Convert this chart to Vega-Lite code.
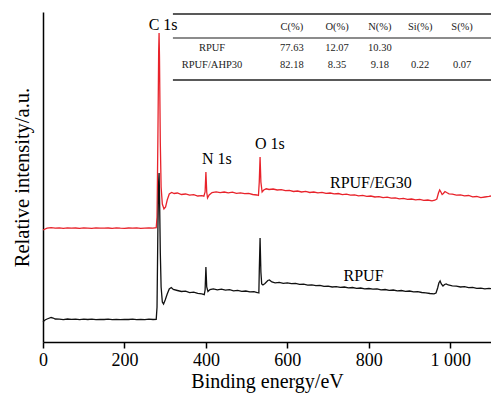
{
  "$schema": "https://vega.github.io/schema/vega-lite/v6.json",
  "autosize": "none",
  "width": 448,
  "height": 330,
  "padding": {"left": 43, "top": 12, "right": 0, "bottom": 55},
  "background": "white",
  "config": {"view": {"stroke": null}, "font": "Liberation Serif"},
  "resolve": {"scale": {"color": "independent"}},
  "datasets": {
    "spec": [
      {"s":"RPUF/EG30","e":0,"i":112},{"s":"RPUF/EG30","e":10,"i":113.8},{"s":"RPUF/EG30","e":20,"i":114.3},{"s":"RPUF/EG30","e":30,"i":113.9},{"s":"RPUF/EG30","e":40,"i":114.2},{"s":"RPUF/EG30","e":50,"i":113.7},{"s":"RPUF/EG30","e":60,"i":114.1},{"s":"RPUF/EG30","e":70,"i":113.8},{"s":"RPUF/EG30","e":80,"i":114.0},{"s":"RPUF/EG30","e":90,"i":113.6},{"s":"RPUF/EG30","e":100,"i":114.1},{"s":"RPUF/EG30","e":110,"i":113.9},{"s":"RPUF/EG30","e":120,"i":113.7},{"s":"RPUF/EG30","e":130,"i":114.2},{"s":"RPUF/EG30","e":140,"i":113.8},{"s":"RPUF/EG30","e":150,"i":113.9},{"s":"RPUF/EG30","e":160,"i":114.0},{"s":"RPUF/EG30","e":170,"i":113.6},{"s":"RPUF/EG30","e":180,"i":114.1},{"s":"RPUF/EG30","e":190,"i":113.8},{"s":"RPUF/EG30","e":200,"i":113.7},{"s":"RPUF/EG30","e":210,"i":114.0},{"s":"RPUF/EG30","e":220,"i":113.8},{"s":"RPUF/EG30","e":230,"i":114.1},{"s":"RPUF/EG30","e":240,"i":113.7},{"s":"RPUF/EG30","e":250,"i":113.9},{"s":"RPUF/EG30","e":260,"i":114.0},{"s":"RPUF/EG30","e":270,"i":113.8},{"s":"RPUF/EG30","e":278,"i":114.3},{"s":"RPUF/EG30","e":280,"i":125},{"s":"RPUF/EG30","e":282,"i":200},{"s":"RPUF/EG30","e":284,"i":290},{"s":"RPUF/EG30","e":285,"i":309},{"s":"RPUF/EG30","e":286,"i":285},{"s":"RPUF/EG30","e":288,"i":200},{"s":"RPUF/EG30","e":290,"i":155},{"s":"RPUF/EG30","e":293,"i":138},{"s":"RPUF/EG30","e":297,"i":133},{"s":"RPUF/EG30","e":301,"i":135},{"s":"RPUF/EG30","e":305,"i":142},{"s":"RPUF/EG30","e":310,"i":148},{"s":"RPUF/EG30","e":316,"i":149.5},{"s":"RPUF/EG30","e":322,"i":148.5},{"s":"RPUF/EG30","e":330,"i":149},{"s":"RPUF/EG30","e":340,"i":147.5},{"s":"RPUF/EG30","e":350,"i":148},{"s":"RPUF/EG30","e":360,"i":146.8},{"s":"RPUF/EG30","e":370,"i":147.3},{"s":"RPUF/EG30","e":380,"i":146},{"s":"RPUF/EG30","e":390,"i":146.4},{"s":"RPUF/EG30","e":395,"i":145.8},{"s":"RPUF/EG30","e":398,"i":150},{"s":"RPUF/EG30","e":400,"i":170},{"s":"RPUF/EG30","e":402,"i":150},{"s":"RPUF/EG30","e":404,"i":144},{"s":"RPUF/EG30","e":408,"i":147},{"s":"RPUF/EG30","e":415,"i":149.5},{"s":"RPUF/EG30","e":425,"i":150.2},{"s":"RPUF/EG30","e":435,"i":149.3},{"s":"RPUF/EG30","e":445,"i":150},{"s":"RPUF/EG30","e":455,"i":149.2},{"s":"RPUF/EG30","e":465,"i":149.8},{"s":"RPUF/EG30","e":475,"i":148.7},{"s":"RPUF/EG30","e":485,"i":149.2},{"s":"RPUF/EG30","e":495,"i":148.3},{"s":"RPUF/EG30","e":505,"i":148.6},{"s":"RPUF/EG30","e":515,"i":147.5},{"s":"RPUF/EG30","e":525,"i":147},{"s":"RPUF/EG30","e":529,"i":146.5},{"s":"RPUF/EG30","e":531,"i":160},{"s":"RPUF/EG30","e":533,"i":185},{"s":"RPUF/EG30","e":535,"i":160},{"s":"RPUF/EG30","e":538,"i":150},{"s":"RPUF/EG30","e":542,"i":152},{"s":"RPUF/EG30","e":548,"i":153.2},{"s":"RPUF/EG30","e":555,"i":152.5},{"s":"RPUF/EG30","e":565,"i":153},{"s":"RPUF/EG30","e":575,"i":152},{"s":"RPUF/EG30","e":585,"i":152.4},{"s":"RPUF/EG30","e":595,"i":151.3},{"s":"RPUF/EG30","e":605,"i":151.6},{"s":"RPUF/EG30","e":615,"i":150.5},{"s":"RPUF/EG30","e":625,"i":151},{"s":"RPUF/EG30","e":635,"i":150},{"s":"RPUF/EG30","e":645,"i":150.6},{"s":"RPUF/EG30","e":655,"i":149.5},{"s":"RPUF/EG30","e":665,"i":150},{"s":"RPUF/EG30","e":675,"i":149.2},{"s":"RPUF/EG30","e":685,"i":149.6},{"s":"RPUF/EG30","e":695,"i":148.6},{"s":"RPUF/EG30","e":705,"i":149},{"s":"RPUF/EG30","e":715,"i":148.2},{"s":"RPUF/EG30","e":725,"i":148.5},{"s":"RPUF/EG30","e":735,"i":147.4},{"s":"RPUF/EG30","e":745,"i":147.8},{"s":"RPUF/EG30","e":755,"i":146.8},{"s":"RPUF/EG30","e":765,"i":147.2},{"s":"RPUF/EG30","e":775,"i":146.2},{"s":"RPUF/EG30","e":785,"i":146.6},{"s":"RPUF/EG30","e":795,"i":145.6},{"s":"RPUF/EG30","e":805,"i":146},{"s":"RPUF/EG30","e":815,"i":145},{"s":"RPUF/EG30","e":825,"i":145.4},{"s":"RPUF/EG30","e":835,"i":144.4},{"s":"RPUF/EG30","e":845,"i":144.8},{"s":"RPUF/EG30","e":855,"i":143.8},{"s":"RPUF/EG30","e":865,"i":144.2},{"s":"RPUF/EG30","e":875,"i":143.2},{"s":"RPUF/EG30","e":885,"i":143.6},{"s":"RPUF/EG30","e":895,"i":142.6},{"s":"RPUF/EG30","e":905,"i":143},{"s":"RPUF/EG30","e":915,"i":142.2},{"s":"RPUF/EG30","e":925,"i":142.6},{"s":"RPUF/EG30","e":935,"i":141.6},{"s":"RPUF/EG30","e":945,"i":142},{"s":"RPUF/EG30","e":955,"i":141.2},{"s":"RPUF/EG30","e":962,"i":141.8},{"s":"RPUF/EG30","e":967,"i":143},{"s":"RPUF/EG30","e":971,"i":149},{"s":"RPUF/EG30","e":974,"i":152},{"s":"RPUF/EG30","e":977,"i":150},{"s":"RPUF/EG30","e":980,"i":147.5},{"s":"RPUF/EG30","e":983,"i":148.5},{"s":"RPUF/EG30","e":987,"i":150.5},{"s":"RPUF/EG30","e":991,"i":149.5},{"s":"RPUF/EG30","e":997,"i":148.2},{"s":"RPUF/EG30","e":1005,"i":147.8},{"s":"RPUF/EG30","e":1015,"i":146.8},{"s":"RPUF/EG30","e":1025,"i":147.2},{"s":"RPUF/EG30","e":1035,"i":146.2},{"s":"RPUF/EG30","e":1045,"i":146.5},{"s":"RPUF/EG30","e":1055,"i":145.2},{"s":"RPUF/EG30","e":1065,"i":145.5},{"s":"RPUF/EG30","e":1075,"i":144.3},{"s":"RPUF/EG30","e":1085,"i":145},{"s":"RPUF/EG30","e":1095,"i":145.6},{"s":"RPUF/EG30","e":1100,"i":146},
      {"s":"RPUF","e":0,"i":20.3},{"s":"RPUF","e":5,"i":22},{"s":"RPUF","e":10,"i":23},{"s":"RPUF","e":20,"i":24.5},{"s":"RPUF","e":25,"i":24},{"s":"RPUF","e":30,"i":23},{"s":"RPUF","e":40,"i":22.8},{"s":"RPUF","e":50,"i":22.4},{"s":"RPUF","e":60,"i":23},{"s":"RPUF","e":70,"i":22.6},{"s":"RPUF","e":80,"i":22.9},{"s":"RPUF","e":90,"i":22.4},{"s":"RPUF","e":100,"i":22.8},{"s":"RPUF","e":110,"i":22.5},{"s":"RPUF","e":120,"i":22.9},{"s":"RPUF","e":130,"i":22.3},{"s":"RPUF","e":140,"i":22.7},{"s":"RPUF","e":150,"i":22.5},{"s":"RPUF","e":160,"i":22.9},{"s":"RPUF","e":170,"i":22.4},{"s":"RPUF","e":180,"i":22.6},{"s":"RPUF","e":190,"i":22.3},{"s":"RPUF","e":200,"i":22.7},{"s":"RPUF","e":210,"i":22.5},{"s":"RPUF","e":220,"i":22.8},{"s":"RPUF","e":230,"i":22.3},{"s":"RPUF","e":240,"i":22.6},{"s":"RPUF","e":250,"i":22.4},{"s":"RPUF","e":260,"i":22.8},{"s":"RPUF","e":270,"i":22.5},{"s":"RPUF","e":278,"i":22.7},{"s":"RPUF","e":280,"i":35},{"s":"RPUF","e":282,"i":110},{"s":"RPUF","e":284,"i":160},{"s":"RPUF","e":285,"i":169},{"s":"RPUF","e":286,"i":150},{"s":"RPUF","e":288,"i":90},{"s":"RPUF","e":290,"i":55},{"s":"RPUF","e":293,"i":40},{"s":"RPUF","e":296,"i":38},{"s":"RPUF","e":300,"i":42},{"s":"RPUF","e":305,"i":48},{"s":"RPUF","e":310,"i":53},{"s":"RPUF","e":315,"i":54.5},{"s":"RPUF","e":320,"i":52.5},{"s":"RPUF","e":330,"i":51.5},{"s":"RPUF","e":340,"i":50.5},{"s":"RPUF","e":350,"i":50.8},{"s":"RPUF","e":360,"i":49.4},{"s":"RPUF","e":370,"i":49.8},{"s":"RPUF","e":380,"i":48.6},{"s":"RPUF","e":390,"i":48.2},{"s":"RPUF","e":396,"i":47.3},{"s":"RPUF","e":398,"i":52},{"s":"RPUF","e":400,"i":75},{"s":"RPUF","e":402,"i":55},{"s":"RPUF","e":405,"i":50.5},{"s":"RPUF","e":410,"i":52.5},{"s":"RPUF","e":418,"i":53.2},{"s":"RPUF","e":428,"i":52.2},{"s":"RPUF","e":438,"i":52.8},{"s":"RPUF","e":448,"i":51.8},{"s":"RPUF","e":458,"i":52.3},{"s":"RPUF","e":468,"i":51.2},{"s":"RPUF","e":478,"i":51.6},{"s":"RPUF","e":488,"i":50.6},{"s":"RPUF","e":498,"i":51},{"s":"RPUF","e":508,"i":50.2},{"s":"RPUF","e":518,"i":50.4},{"s":"RPUF","e":526,"i":49.5},{"s":"RPUF","e":530,"i":49},{"s":"RPUF","e":531,"i":70},{"s":"RPUF","e":533,"i":104},{"s":"RPUF","e":535,"i":70},{"s":"RPUF","e":537,"i":58},{"s":"RPUF","e":540,"i":57},{"s":"RPUF","e":545,"i":58.5},{"s":"RPUF","e":552,"i":61.5},{"s":"RPUF","e":556,"i":62},{"s":"RPUF","e":562,"i":60},{"s":"RPUF","e":570,"i":59.2},{"s":"RPUF","e":580,"i":59.6},{"s":"RPUF","e":590,"i":58.7},{"s":"RPUF","e":600,"i":59.2},{"s":"RPUF","e":610,"i":58.4},{"s":"RPUF","e":620,"i":58.6},{"s":"RPUF","e":630,"i":57.6},{"s":"RPUF","e":640,"i":57.8},{"s":"RPUF","e":650,"i":56.8},{"s":"RPUF","e":660,"i":57.2},{"s":"RPUF","e":670,"i":56.3},{"s":"RPUF","e":680,"i":56.6},{"s":"RPUF","e":690,"i":55.6},{"s":"RPUF","e":700,"i":55.9},{"s":"RPUF","e":710,"i":55},{"s":"RPUF","e":720,"i":55.4},{"s":"RPUF","e":730,"i":54.6},{"s":"RPUF","e":740,"i":55},{"s":"RPUF","e":750,"i":54.2},{"s":"RPUF","e":760,"i":54.5},{"s":"RPUF","e":770,"i":53.6},{"s":"RPUF","e":780,"i":54},{"s":"RPUF","e":790,"i":53.2},{"s":"RPUF","e":800,"i":53.5},{"s":"RPUF","e":810,"i":52.8},{"s":"RPUF","e":820,"i":53.1},{"s":"RPUF","e":830,"i":52.2},{"s":"RPUF","e":840,"i":52.5},{"s":"RPUF","e":850,"i":51.7},{"s":"RPUF","e":860,"i":52},{"s":"RPUF","e":870,"i":51.2},{"s":"RPUF","e":880,"i":51.5},{"s":"RPUF","e":890,"i":50.7},{"s":"RPUF","e":900,"i":51},{"s":"RPUF","e":910,"i":50.2},{"s":"RPUF","e":920,"i":50.4},{"s":"RPUF","e":930,"i":49.5},{"s":"RPUF","e":940,"i":49.2},{"s":"RPUF","e":950,"i":48.5},{"s":"RPUF","e":960,"i":48.2},{"s":"RPUF","e":965,"i":49},{"s":"RPUF","e":969,"i":54},{"s":"RPUF","e":972,"i":59},{"s":"RPUF","e":975,"i":61},{"s":"RPUF","e":978,"i":58},{"s":"RPUF","e":982,"i":56},{"s":"RPUF","e":986,"i":57.5},{"s":"RPUF","e":990,"i":58},{"s":"RPUF","e":995,"i":57},{"s":"RPUF","e":1005,"i":56.2},{"s":"RPUF","e":1015,"i":55.8},{"s":"RPUF","e":1025,"i":55},{"s":"RPUF","e":1035,"i":55.3},{"s":"RPUF","e":1045,"i":54.4},{"s":"RPUF","e":1055,"i":54.6},{"s":"RPUF","e":1065,"i":53.6},{"s":"RPUF","e":1075,"i":53.9},{"s":"RPUF","e":1085,"i":53.2},{"s":"RPUF","e":1095,"i":53.6},{"s":"RPUF","e":1100,"i":53.4}
    ],
    "labels": [
      {"t":"C 1s","e":295,"i":312},
      {"t":"N 1s","e":427,"i":178},
      {"t":"O 1s","e":557,"i":193},
      {"t":"RPUF/EG30","e":805,"i":154},
      {"t":"RPUF","e":787,"i":61}
    ],
    "table": [
      {"t":"C(%)","e":611,"i":315},{"t":"O(%)","e":722,"i":315},{"t":"N(%)","e":827,"i":315},{"t":"Si(%)","e":926,"i":315},{"t":"S(%)","e":1029,"i":315},
      {"t":"RPUF","e":415,"i":294.5},{"t":"77.63","e":611,"i":294.5},{"t":"12.07","e":722,"i":294.5},{"t":"10.30","e":827,"i":294.5},
      {"t":"RPUF/AHP30","e":415,"i":277},{"t":"82.18","e":611,"i":277},{"t":"8.35","e":722,"i":277},{"t":"9.18","e":827,"i":277},{"t":"0.22","e":926,"i":277},{"t":"0.07","e":1029,"i":277}
    ],
    "rules": [
      {"k":"top","e":319,"e2":1100,"i":328},
      {"k":"mid","e":319,"e2":1100,"i":304},
      {"k":"bottom","e":319,"e2":1100,"i":262}
    ]
  },
  "layer": [
    {
      "data": {"name": "spec"},
      "mark": {"type": "line", "strokeWidth": 1.3, "interpolate": "linear"},
      "encoding": {
        "x": {"field": "e", "type": "quantitative",
          "scale": {"domain": [0, 1100], "nice": false},
          "axis": {"title": "Binding energy/eV", "values": [0, 200, 400, 600, 800, 1000],
            "labelExpr": "datum.value == 1000 ? '1 000' : datum.label", "format": "d",
            "grid": false, "domainColor": "black", "domainWidth": 1.5, "tickColor": "black", "tickWidth": 1.5, "tickSize": 6,
            "labelFont": "Liberation Serif", "labelFontSize": 18, "labelColor": "black", "labelPadding": 3,
            "titleFont": "Liberation Serif", "titleFontSize": 20, "titleFontWeight": "normal", "titleColor": "black", "titlePadding": 2, "labelFlush": false}},
        "y": {"field": "i", "type": "quantitative",
          "scale": {"domain": [0, 330], "nice": false},
          "axis": {"title": "Relative intensity/a.u.", "labels": false, "ticks": false, "grid": false,
            "domainColor": "black", "domainWidth": 1.5,
            "titleFont": "Liberation Serif", "titleFontSize": 20.5, "titleFontWeight": "normal", "titleColor": "black", "titlePadding": 11}},
        "color": {"field": "s", "type": "nominal",
          "scale": {"domain": ["RPUF/EG30", "RPUF"], "range": ["#e8232b", "#111111"]}, "legend": null}
      }
    },
    {
      "data": {"name": "rules"},
      "mark": {"type": "rule", "strokeWidth": 1.5},
      "encoding": {
        "x": {"field": "e", "type": "quantitative"},
        "x2": {"field": "e2"},
        "y": {"field": "i", "type": "quantitative"},
        "color": {"field": "k", "type": "nominal", "scale": {"domain": ["top", "mid", "bottom"], "range": ["#222222", "#666666", "#222222"]}, "legend": null}
      }
    },
    {
      "data": {"name": "table"},
      "mark": {"type": "text", "font": "Liberation Serif", "fontSize": 10.5, "align": "center", "baseline": "middle", "color": "#222222"},
      "encoding": {
        "x": {"field": "e", "type": "quantitative"},
        "y": {"field": "i", "type": "quantitative"},
        "text": {"field": "t"}
      }
    },
    {
      "data": {"name": "labels"},
      "mark": {"type": "text", "font": "Liberation Serif", "fontSize": 16, "align": "center", "baseline": "alphabetic", "color": "black"},
      "encoding": {
        "x": {"field": "e", "type": "quantitative"},
        "y": {"field": "i", "type": "quantitative"},
        "text": {"field": "t"}
      }
    }
  ]
}
